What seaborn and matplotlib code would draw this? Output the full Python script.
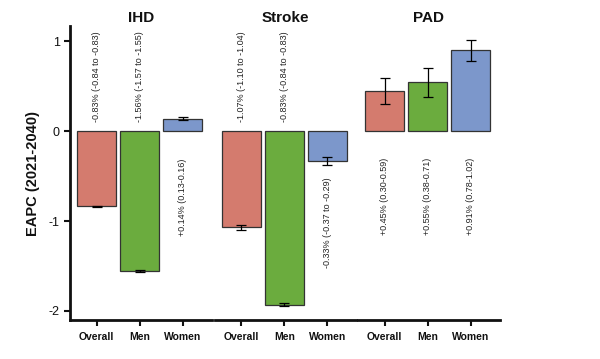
import matplotlib
matplotlib.use("Agg")
import matplotlib.pyplot as plt
import seaborn as sns
import numpy as np
import pandas as pd

sns.set_style("white")
plt.rcParams['font.family'] = ['Liberation Sans Narrow', 'Liberation Sans', 'DejaVu Sans']
plt.rcParams['text.color'] = '#111111'
plt.rcParams['axes.labelcolor'] = '#111111'
plt.rcParams['xtick.labelcolor'] = '#111111'
plt.rcParams['ytick.labelcolor'] = '#111111'

# data
diseases = ['IHD', 'Stroke', 'PAD']
groups = ['Overall', 'Men', 'Women']
eapc = {
    'IHD':    [-0.83, -1.56, 0.14],
    'Stroke': [-1.07, -1.93, -0.33],
    'PAD':    [0.45, 0.55, 0.91],
}
ci_low = {
    'IHD':    [-0.84, -1.57, 0.13],
    'Stroke': [-1.10, -1.95, -0.37],
    'PAD':    [0.30, 0.38, 0.78],
}
ci_high = {
    'IHD':    [-0.83, -1.55, 0.16],
    'Stroke': [-1.04, -1.91, -0.29],
    'PAD':    [0.59, 0.71, 1.02],
}
bar_labels = {
    'IHD':    ['-0.83% (-0.84 to -0.83)', '-1.56% (-1.57 to -1.55)', '+0.14% (0.13-0.16)'],
    'Stroke': ['-1.07% (-1.10 to -1.04)', '-0.83% (-0.84 to -0.83)', '-0.33% (-0.37 to -0.29)'],
    'PAD':    ['+0.45% (0.30-0.59)', '+0.55% (0.38-0.71)', '+0.91% (0.78-1.02)'],
}
palette = {'Overall': '#D47B6E', 'Men': '#6BAC3E', 'Women': '#7C97CB'}

fig = plt.figure(figsize=(6.0, 3.59), dpi=100)
lefts = [0.117, 0.358, 0.597]
width = 0.236
bottom, height = 0.109, 0.818

for i, dis in enumerate(diseases):
    ax = fig.add_axes([lefts[i], bottom, width, height])
    df = pd.DataFrame({'group': groups, 'value': eapc[dis]})
    sns.barplot(data=df, x='group', y='value', hue='group', palette=palette,
                order=groups, hue_order=groups, width=0.9, dodge=False,
                saturation=1, edgecolor='#333333', linewidth=0.9,
                legend=False, ax=ax)
    vals = np.array(eapc[dis])
    lo = np.array(ci_low[dis])
    hi = np.array(ci_high[dis])
    xs = np.arange(len(groups))
    ax.errorbar(xs, vals, yerr=[vals - lo, hi - vals], fmt='none',
                ecolor='black', elinewidth=0.9, capsize=3.5, capthick=0.9)

    # rotated value labels
    for x, v, l, txt in zip(xs, vals, lo, bar_labels[dis]):
        if v < -0.5:
            ax.text(x, 0.1, txt, rotation=90, ha='center', va='bottom',
                    fontsize=6.5, color='#222222')
        else:
            top = min(-0.3, l - 0.14)
            ax.text(x, top, txt, rotation=90, ha='center', va='top',
                    fontsize=6.5, color='#222222')

    ax.set_xlim(-0.62, 2.68)
    ax.set_ylim(-2.1, 1.17)
    ax.set_title(dis, fontsize=11, fontweight='bold', pad=3)
    ax.set_xlabel('')
    ax.set_ylabel('')
    ax.set_xticks(xs)
    ax.set_xticklabels(groups, fontsize=7.5, fontweight='bold')
    ax.tick_params(axis='x', direction='out', length=4, width=1.5, pad=5,
                   bottom=True, color='#111111')
    for s in ['top', 'right']:
        ax.spines[s].set_visible(False)
    ax.spines['bottom'].set_linewidth(2)
    ax.spines['bottom'].set_color('#111111')
    if i == 0:
        ax.spines['left'].set_linewidth(2)
        ax.spines['left'].set_color('#111111')
        ax.set_yticks([-2, -1, 0, 1])
        ax.set_yticklabels(['-2', '-1', '0', '1'], fontsize=9)
        ax.tick_params(axis='y', direction='out', length=4, width=1.5,
                       left=True, color='#111111')
        ax.set_ylabel('EAPC (2021-2040)', fontsize=10.5, fontweight='bold',
                      labelpad=6)
    else:
        ax.spines['left'].set_visible(False)
        ax.set_yticks([])

fig.savefig('out.png', dpi=100)
